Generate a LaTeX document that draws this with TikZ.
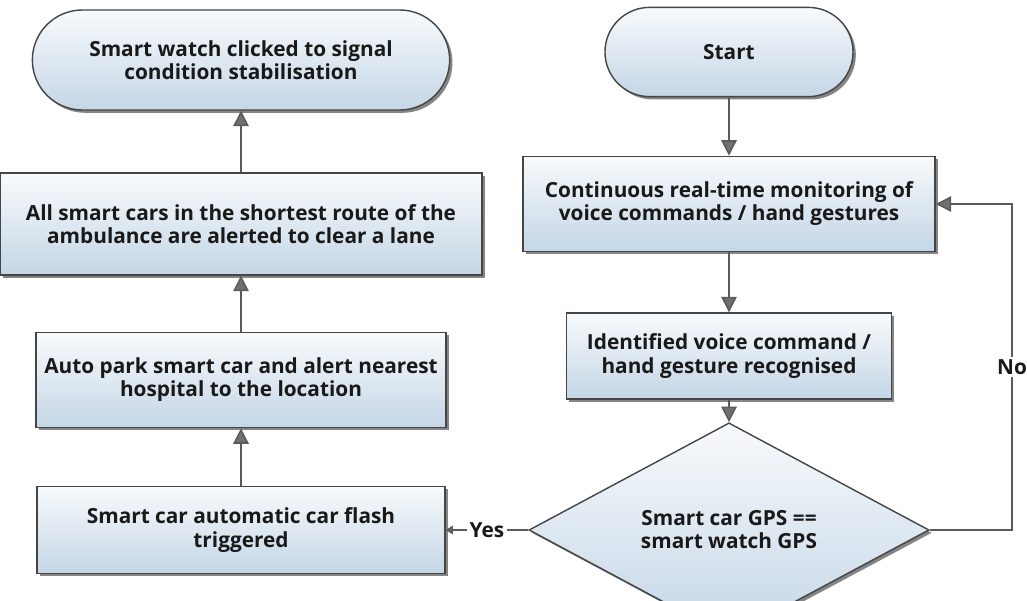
\documentclass[tikz,border=0pt]{standalone}
\usepackage{fontspec}
\setmainfont{Open Sans}
\usepackage{xcolor}
\usetikzlibrary{arrows.meta,shapes.misc,shapes.geometric,shadows}
\definecolor{boxtop}{HTML}{F8FAFC}
\definecolor{boxbot}{HTML}{C4D6E6}
\definecolor{edgegray}{HTML}{454545}
\definecolor{linegray}{HTML}{5A5A5A}
\definecolor{tipgray}{HTML}{707070}

\begin{document}
\begin{tikzpicture}[
x=0.025cm, y=-0.025cm,
base/.style={draw=edgegray, line width=1pt, top color=boxtop, bottom color=boxbot, align=center, text=black!90, font=\fontsize{14.8}{16.4}\selectfont\bfseries, inner sep=0pt, drop shadow={shadow xshift=2pt, shadow yshift=-2pt, fill=black!80, opacity=0.6}},
term/.style={base, rounded rectangle},
proc/.style={base, rectangle},
dec/.style={base, diamond},
arr/.style={draw=linegray, line width=1.1pt, -{Triangle[length=11pt,width=11pt,fill=tipgray]}},
arrsm/.style={draw=linegray, line width=1.1pt, -{Triangle[length=5pt,width=6pt,fill=tipgray]}},
lbl/.style={fill=white, inner sep=2pt, text=black!90, font=\fontsize{14.8}{16.4}\selectfont\bfseries}
]
\useasboundingbox (0,0) rectangle (1027,600);

\node[term, minimum width=10.43cm, minimum height=2.5cm] (stab) at (241,60) {Smart watch clicked to signal\\condition stabilisation};
\node[proc, minimum width=12.05cm, minimum height=2.55cm] (lane) at (241,224) {All smart cars in the shortest route of the\\ambulance are alerted to clear a lane};
\node[proc, minimum width=10.25cm, minimum height=2.38cm] (park) at (241,380) {Auto park smart car and alert nearest\\hospital to the location};
\node[proc, minimum width=10.2cm, minimum height=2.18cm] (flash) at (241,530) {Smart car automatic car flash\\triggered};

\node[term, minimum width=6.2cm, minimum height=2.23cm] (start) at (729,52) {Start};
\node[proc, minimum width=10.3cm, minimum height=2.38cm] (mon) at (729,204) {Continuous real-time monitoring of\\voice commands / hand gestures};
\node[proc, minimum width=8.13cm, minimum height=2.15cm] (ident) at (729,356) {Identified voice command /\\hand gesture recognised};
\node[dec, minimum width=10cm, minimum height=3.4cm] (gps) at (729,530) {Smart car GPS ==\\smart watch GPS};
\coordinate (noturn) at (1012,530);

\draw[arr] (start) -- (mon);
\draw[arr] (mon) -- (ident);
\draw[arr] (ident) -- (gps);
\draw[arr] (gps.east) -- (noturn) |- node[lbl, pos=0.25]{No} (mon.east);
\draw[arrsm] (gps.west) -- node[lbl]{Yes} (flash.east);
\draw[arr] (flash) -- (park);
\draw[arr] (park) -- (lane);
\draw[arr] (lane) -- (stab);
\end{tikzpicture}
\end{document}
